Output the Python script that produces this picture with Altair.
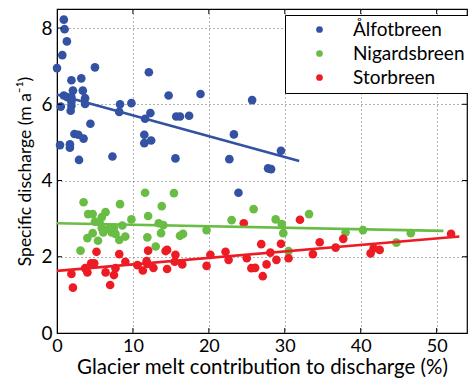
import altair as alt
import pandas as pd

names = ["Ålfotbreen", "Nigardsbreen", "Storbreen"]
colors = ["#3452a3", "#69bd45", "#ed1c24"]

alf_x = [0.9, 1.0, 1.3, 0.7, 0.0, 5.0, 12.1, 1.9, 3.2, 2.1, 3.4, 0.9, 1.3, 1.9, 1.9, 3.7, 3.7, 1.9, 0.5, 1.8,
         8.3, 9.8, 8.2, 14.7, 18.9, 12.3, 11.6, 15.7, 16.2, 17.4, 4.4, 2.3, 2.8, 3.5, 11.5, 11.5, 12.4, 0.4, 1.7, 1.7,
         7.3, 15.6, 2.9, 25.7, 23.3, 29.5, 22.7, 27.8, 28.2, 23.9]
alf_y = [8.22, 7.97, 7.65, 7.29, 6.95, 6.97, 6.84, 6.63, 6.68, 6.36, 6.36, 6.23, 6.19, 6.18, 6.07, 6.16, 6.01, 5.96, 5.94, 5.83,
         6.00, 6.03, 5.80, 6.23, 6.27, 5.77, 5.62, 5.68, 5.68, 5.70, 5.49, 5.22, 5.20, 5.10, 5.20, 4.98, 5.05, 4.93, 4.95, 4.86,
         4.63, 4.58, 4.54, 6.11, 5.21, 4.78, 4.56, 4.32, 4.30, 3.68]

nig_x = [3.5, 11.6, 15.4, 8.3, 13.8, 4.1, 4.7, 6.4, 5.9, 12.0, 9.8, 5.0, 5.6, 13.4, 14.0, 8.6, 5.9, 6.8, 7.5, 7.2,
         4.7, 7.7, 6.1, 9.0, 4.0, 5.4, 8.2, 11.9, 13.7, 16.2, 16.6, 13.0, 3.1, 19.7, 23.0, 25.9, 28.8, 29.6, 29.8, 33.2,
         30.5, 38.0, 40.3, 46.6, 44.7]
nig_y = [3.43, 3.68, 3.67, 3.38, 3.33, 3.12, 3.12, 3.17, 3.04, 3.07, 2.98, 2.92, 2.90, 2.88, 2.83, 2.82, 2.75, 2.73, 2.76, 2.64,
         2.62, 2.60, 2.64, 2.53, 2.49, 2.42, 2.44, 2.51, 2.62, 2.55, 2.60, 2.27, 2.16, 2.70, 2.96, 3.25, 2.98, 2.86, 2.62, 3.12,
         2.15, 2.64, 2.70, 2.62, 2.37]

sto_x = [5.2, 8.2, 12.0, 14.3, 14.5, 15.6, 4.5, 4.9, 9.0, 3.7, 4.0, 1.9, 6.4, 7.7, 7.5, 10.6, 11.8, 11.9, 11.3, 12.7,
         14.5, 15.5, 16.5, 2.1, 7.0, 24.6, 20.2, 22.2, 22.6, 25.0, 19.7, 26.9, 28.1, 29.5, 28.9, 27.6, 25.6, 26.1, 27.1, 30.5,
         32.0, 33.7, 34.6, 37.7, 36.7, 41.3, 41.7, 42.5, 51.9]
sto_y = [2.13, 2.07, 2.16, 2.15, 2.18, 2.05, 1.83, 1.83, 1.87, 1.70, 1.59, 1.55, 1.59, 1.70, 1.52, 1.78, 1.89, 1.81, 1.64, 1.71,
         1.68, 1.87, 1.80, 1.19, 1.26, 2.88, 2.05, 2.13, 1.92, 1.96, 1.76, 2.33, 2.11, 2.34, 1.92, 1.80, 1.70, 1.71, 1.49, 1.96,
         2.97, 2.07, 2.38, 2.47, 2.24, 2.09, 2.22, 2.18, 2.60]

# fitted trend lines (start/end)
fit_x0 = [0.0, 0.0, 0.0]
fit_x1 = [31.9, 50.9, 53.0]
fit_y0 = [6.26, 2.88, 1.63]
fit_y1 = [4.51, 2.68, 2.53]

x_ticks = [0, 10, 20, 30, 40, 50]
y_ticks = [0, 2, 4, 6, 8]

rows = []
for i, (xs, ys) in enumerate([(alf_x, alf_y), (nig_x, nig_y), (sto_x, sto_y)]):
    for a, b in zip(xs, ys):
        rows.append({"glacier": names[i], "x": a, "y": b, "k": i})
pts = pd.DataFrame(rows)

fit_rows = []
for i in range(3):
    fit_rows.append({"glacier": names[i], "x": fit_x0[i], "y": fit_y0[i]})
    fit_rows.append({"glacier": names[i], "x": fit_x1[i], "y": fit_y1[i]})
fit = pd.DataFrame(fit_rows)

W, H = 410, 324
FONT = "Lato"

xscale = alt.Scale(domain=[0, 54], nice=False, zero=False)
yscale = alt.Scale(domain=[0, 8.5], nice=False, zero=False)

xaxis = alt.Axis(values=x_ticks, title="Glacier melt contribution to discharge (%)", grid=True,
                 gridDash=[1, 3], gridColor="#555555", gridOpacity=0.9, ticks=False,
                 labelFont=FONT, labelFontSize=18, labelColor="black", labelPadding=4,
                 titleFont=FONT, titleFontSize=20.5, titleFontWeight="normal", titleColor="black", titlePadding=2,
                 domainColor="black", labelFlush=False)
yaxis = alt.Axis(values=y_ticks, title="Specific discharge (m a⁻¹)", grid=True,
                 gridDash=[1, 3], gridColor="#555555", gridOpacity=0.9, ticks=False,
                 labelFont=FONT, labelFontSize=19, labelColor="black", labelPadding=5,
                 titleFont=FONT, titleFontSize=17.5, titleFontWeight="normal", titleColor="black", titlePadding=6,
                 domainColor="black", labelFlush=False)

color = alt.Color("glacier:N", scale=alt.Scale(domain=names, range=colors),
                  legend=alt.Legend(title=None, orient="none", legendX=228, legendY=6,
                                    strokeColor="black", fillColor="white", padding=5,
                                    symbolType="circle", symbolSize=45, symbolOffset=20,
                                    labelFont=FONT, labelFontSize=19, labelColor="black",
                                    labelOffset=24, rowPadding=4, cornerRadius=0, symbolStrokeWidth=0))

points = alt.Chart(pts).mark_circle(size=75, opacity=1).encode(
    x=alt.X("x:Q", scale=xscale, axis=xaxis),
    y=alt.Y("y:Q", scale=yscale, axis=yaxis),
    color=color,
    order=alt.Order("k:Q"),
)

lines = alt.Chart(fit).mark_line(strokeWidth=2.6).encode(
    x=alt.X("x:Q", scale=xscale),
    y=alt.Y("y:Q", scale=yscale),
    color=alt.Color("glacier:N", scale=alt.Scale(domain=names, range=colors), legend=None),
    detail="glacier:N",
)

xt = pd.DataFrame({"v": x_ticks[1:]})
yt = pd.DataFrame({"v": y_ticks[1:]})
tick_bot = alt.Chart(xt).mark_rule(color="black", strokeWidth=1).encode(
    x=alt.X("v:Q", scale=xscale), y=alt.value(H), y2=alt.value(H - 5))
tick_top = alt.Chart(xt).mark_rule(color="black", strokeWidth=1).encode(
    x=alt.X("v:Q", scale=xscale), y=alt.value(0), y2=alt.value(5))
tick_left = alt.Chart(yt).mark_rule(color="black", strokeWidth=1).encode(
    y=alt.Y("v:Q", scale=yscale), x=alt.value(0), x2=alt.value(5))
tick_right = alt.Chart(yt).mark_rule(color="black", strokeWidth=1).encode(
    y=alt.Y("v:Q", scale=yscale), x=alt.value(W), x2=alt.value(W - 5))

chart = alt.layer(points, lines, tick_bot, tick_top, tick_left, tick_right).properties(
    width=W, height=H,
    autosize=alt.AutoSizeParams(type="none"),
    padding={"left": 57, "top": 9, "right": 1, "bottom": 49},
    background="white",
).configure_view(stroke="black", strokeWidth=1.2)

chart.save("out.html", embed_options={"renderer": "svg", "actions": False})
